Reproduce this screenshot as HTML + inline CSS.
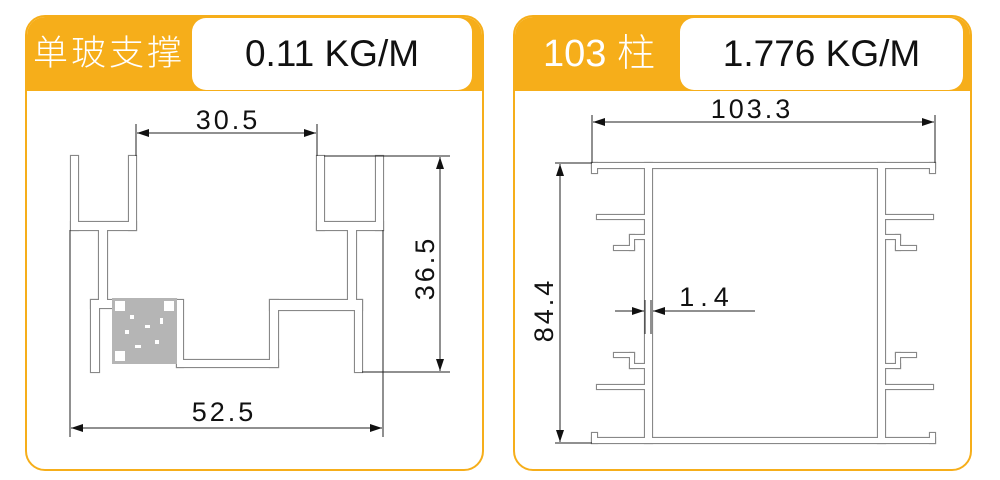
<!DOCTYPE html>
<html><head><meta charset="utf-8"><style>
html,body{margin:0;padding:0;background:#fff;width:1000px;height:480px;overflow:hidden}
.card{position:absolute;top:15px;width:455px;height:452px;border:2px solid #f6ae1a;border-radius:20px;background:#fff;overflow:hidden}
.hdr{position:absolute;left:0;top:0;right:0;height:74px;background:#f6ae1a}
.ttl{position:absolute;top:0;height:74px;line-height:74px;color:#fff;font-family:"Liberation Sans","Noto Sans CJK SC",sans-serif;font-size:35px;font-weight:300}
.wb{position:absolute;top:1px;height:72px;background:#fff;border-radius:14px;line-height:72px;text-align:center;font-family:"Liberation Sans",sans-serif;font-size:37px;color:#111}
svg{position:absolute;left:0;top:0}
</style></head><body>
<div class="card" style="left:25px">
 <div class="hdr"></div>
 <div class="ttl" style="left:6px;letter-spacing:3px">单玻支撑</div>
 <div class="wb" style="left:165px;width:280px">0.11 KG/M</div>
</div>
<div class="card" style="left:513px">
 <div class="hdr"></div>
 <div class="ttl" style="left:28px;font-size:38px">103 柱</div>
 <div class="wb" style="left:165px;width:283px">1.776 KG/M</div>
</div>
<svg width="1000" height="480" viewBox="0 0 1000 480">
<defs>
<marker id="a" markerWidth="12" markerHeight="8" refX="12" refY="4" orient="auto-start-reverse" markerUnits="userSpaceOnUse"><path d="M0,0 L12,4 L0,8 Z" fill="#111"/></marker>
</defs>
<g stroke="#888" stroke-width="2.2" fill="#888">
<rect x="71" y="156" width="7" height="74"/><rect x="71" y="222" width="65" height="8"/><rect x="129" y="156" width="7" height="74"/>
<rect x="99" y="226" width="8" height="80"/><rect x="91" y="300" width="86" height="8"/><rect x="91" y="300" width="8" height="72"/>
<rect x="177" y="300" width="6" height="67"/><rect x="177" y="360" width="101" height="7"/><rect x="270" y="300" width="8" height="67"/>
<rect x="270" y="300" width="92" height="10"/><rect x="355" y="300" width="7" height="72"/><rect x="348" y="226" width="8" height="80"/>
<rect x="317" y="156" width="7" height="74"/><rect x="317" y="222" width="66" height="8"/><rect x="376" y="156" width="7" height="74"/>
<rect x="592" y="163" width="343" height="5"/><rect x="592" y="163" width="5" height="10"/><rect x="930" y="163" width="5" height="10"/>
<rect x="592" y="438" width="343" height="5"/><rect x="592" y="433" width="5" height="10"/><rect x="930" y="433" width="5" height="10"/>
<rect x="645" y="163" width="7" height="280"/><rect x="878" y="163" width="7" height="280"/>
<rect x="597" y="215" width="48" height="4"/><rect x="630" y="235" width="15" height="4"/><rect x="630" y="235" width="4" height="15"/><rect x="614" y="246" width="20" height="4"/>
<rect x="597" y="385" width="48" height="4"/><rect x="630" y="364" width="15" height="4"/><rect x="630" y="353" width="4" height="15"/><rect x="614" y="353" width="20" height="4"/>
<rect x="885" y="215" width="48" height="4"/><rect x="885" y="235" width="15" height="4"/><rect x="896" y="235" width="4" height="15"/><rect x="896" y="246" width="20" height="4"/>
<rect x="885" y="385" width="48" height="4"/><rect x="885" y="364" width="15" height="4"/><rect x="896" y="353" width="4" height="15"/><rect x="896" y="353" width="20" height="4"/>
</g>
<g fill="#fff">
<rect x="71" y="156" width="7" height="74"/><rect x="71" y="222" width="65" height="8"/><rect x="129" y="156" width="7" height="74"/>
<rect x="99" y="226" width="8" height="80"/><rect x="91" y="300" width="86" height="8"/><rect x="91" y="300" width="8" height="72"/>
<rect x="177" y="300" width="6" height="67"/><rect x="177" y="360" width="101" height="7"/><rect x="270" y="300" width="8" height="67"/>
<rect x="270" y="300" width="92" height="10"/><rect x="355" y="300" width="7" height="72"/><rect x="348" y="226" width="8" height="80"/>
<rect x="317" y="156" width="7" height="74"/><rect x="317" y="222" width="66" height="8"/><rect x="376" y="156" width="7" height="74"/>
<rect x="592" y="163" width="343" height="5"/><rect x="592" y="163" width="5" height="10"/><rect x="930" y="163" width="5" height="10"/>
<rect x="592" y="438" width="343" height="5"/><rect x="592" y="433" width="5" height="10"/><rect x="930" y="433" width="5" height="10"/>
<rect x="645" y="163" width="7" height="280"/><rect x="878" y="163" width="7" height="280"/>
<rect x="597" y="215" width="48" height="4"/><rect x="630" y="235" width="15" height="4"/><rect x="630" y="235" width="4" height="15"/><rect x="614" y="246" width="20" height="4"/>
<rect x="597" y="385" width="48" height="4"/><rect x="630" y="364" width="15" height="4"/><rect x="630" y="353" width="4" height="15"/><rect x="614" y="353" width="20" height="4"/>
<rect x="885" y="215" width="48" height="4"/><rect x="885" y="235" width="15" height="4"/><rect x="896" y="235" width="4" height="15"/><rect x="896" y="246" width="20" height="4"/>
<rect x="885" y="385" width="48" height="4"/><rect x="885" y="364" width="15" height="4"/><rect x="896" y="353" width="4" height="15"/><rect x="896" y="353" width="20" height="4"/>
</g>
<rect x="112" y="298" width="65" height="66" fill="#b5b5b5"/>
<g fill="#fff"><rect x="115" y="301" width="10" height="10"/><rect x="164" y="301" width="10" height="10"/><rect x="115" y="351" width="10" height="10"/>
<rect x="130" y="315" width="4" height="4"/><rect x="145" y="325" width="5" height="3"/><rect x="155" y="340" width="4" height="4"/><rect x="135" y="345" width="6" height="3"/><rect x="160" y="318" width="3" height="6"/><rect x="125" y="330" width="4" height="4"/></g>
<g stroke="#222" stroke-width="1" fill="none">
<line x1="70" y1="230" x2="70" y2="437"/><line x1="383" y1="230" x2="383" y2="437"/>
<line x1="136" y1="124" x2="136" y2="156"/><line x1="317" y1="124" x2="317" y2="156"/>
<line x1="324" y1="156" x2="450" y2="156"/><line x1="362" y1="372" x2="450" y2="372"/>
<line x1="137" y1="133" x2="316" y2="133" marker-start="url(#a)" marker-end="url(#a)"/>
<line x1="440" y1="157" x2="440" y2="371" marker-start="url(#a)" marker-end="url(#a)"/>
<line x1="71" y1="428" x2="382" y2="428" marker-start="url(#a)" marker-end="url(#a)"/>
<line x1="592" y1="115" x2="592" y2="163"/><line x1="935" y1="115" x2="935" y2="163"/>
<line x1="555" y1="163" x2="592" y2="163"/><line x1="555" y1="443" x2="592" y2="443"/>
<line x1="593" y1="122" x2="934" y2="122" marker-start="url(#a)" marker-end="url(#a)"/>
<line x1="560" y1="164" x2="560" y2="442" marker-start="url(#a)" marker-end="url(#a)"/>
<line x1="615" y1="311" x2="644" y2="311" marker-end="url(#a)"/>
<line x1="755" y1="311" x2="653" y2="311" marker-end="url(#a)"/>
<line x1="645" y1="300" x2="645" y2="334"/><line x1="651" y1="300" x2="651" y2="334"/>
</g>
<g font-family="'Liberation Sans',sans-serif" font-size="27" fill="#111" text-anchor="middle">
<text x="228" y="129" letter-spacing="3">30.5</text>
<text x="224" y="421" letter-spacing="3">52.5</text>
<text x="752" y="118" letter-spacing="3">103.3</text>
<text x="707" y="306" letter-spacing="6">1.4</text>
<text transform="translate(434,268) rotate(-90)" letter-spacing="3">36.5</text>
<text transform="translate(553,310) rotate(-90)" letter-spacing="3">84.4</text>
</g>
</svg>
</body></html>
